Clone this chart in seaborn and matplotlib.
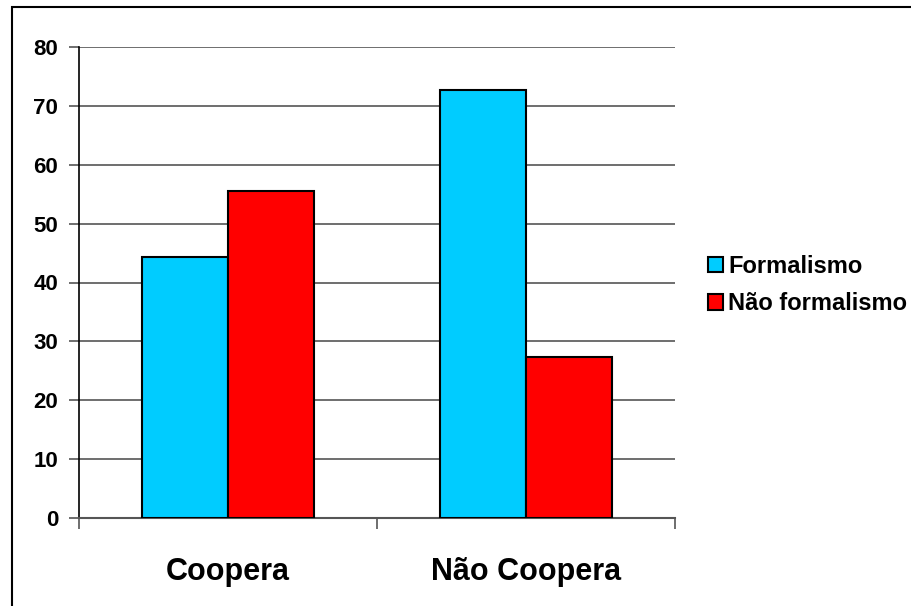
import pandas as pd
import matplotlib
matplotlib.use('Agg')
import matplotlib.pyplot as plt
import seaborn as sns
from matplotlib.patches import Rectangle

# Data
categorias = ['Coopera', 'Não Coopera']
series = ['Formalismo', 'Não formalismo']
formalismo = [44.4, 72.7]
nao_formalismo = [55.6, 27.3]
cores = ['#00CCFF', '#FF0000']
y_ticks = [0, 10, 20, 30, 40, 50, 60, 70, 80]

df = pd.DataFrame({
    'grupo': categorias * 2,
    'serie': [series[0]] * 2 + [series[1]] * 2,
    'valor': formalismo + nao_formalismo,
})

sns.set_style('white')
plt.rcParams['font.family'] = ['Liberation Sans', 'DejaVu Sans']
plt.rcParams['font.weight'] = 'bold'
plt.rcParams['text.color'] = 'black'
plt.rcParams['xtick.labelcolor'] = 'black'
plt.rcParams['ytick.labelcolor'] = 'black'

fig = plt.figure(figsize=(9.12, 6.06), dpi=100)
ax = fig.add_axes([79 / 912, 88 / 606, 596 / 912, 471 / 606])

sns.barplot(data=df, x='grupo', y='valor', hue='serie', order=categorias,
            hue_order=series, palette=cores, width=0.574, saturation=1,
            edgecolor='black', linewidth=1.5, ax=ax, zorder=3)

ax.set_ylim(0, 80)
ax.set_xlim(-0.5, 1.5)
ax.set_yticks(y_ticks)
ax.set_yticklabels([str(v) for v in y_ticks], fontsize=16, fontweight='bold',
                   color='black')
ax.yaxis.grid(True, color='#555555', linewidth=1.2, zorder=0)
ax.set_axisbelow(True)

# x ticks sit at the category boundaries, labels at centers
ax.set_xticks([-0.5, 0.5, 1.5])
ax.set_xticklabels(['', '', ''])
ax.set_xticks([0, 1], minor=True)
ax.set_xticklabels(categorias, minor=True, fontsize=22, fontweight='bold',
                   color='black')
ax.tick_params(axis='x', which='major', direction='out', length=8, width=1.2,
               color='#555555', bottom=True)
ax.tick_params(axis='x', which='minor', length=0, pad=28)
ax.tick_params(axis='y', direction='out', length=7, width=1.2, color='#555555',
               left=True, pad=8)

for s in ['top', 'right']:
    ax.spines[s].set_visible(False)
ax.spines['left'].set_color('black')
ax.spines['left'].set_linewidth(1.2)
ax.spines['bottom'].set_color('#555555')
ax.spines['bottom'].set_linewidth(1.5)

ax.set_xlabel('')
ax.set_ylabel('')

leg = ax.legend(loc='center left', bbox_to_anchor=(1.0, 0.495), frameon=False,
                prop={'weight': 'bold', 'size': 17}, handlelength=0.65,
                handleheight=0.65, handletextpad=0.2, labelspacing=0.6,
                borderaxespad=1.0)
for t in leg.get_texts():
    t.set_color('black')

# outer frame of the chart area
fig.patches.append(Rectangle((12 / 912, -0.05), 1.0, 1 - 7 / 606 + 0.05,
                             transform=fig.transFigure, fill=False,
                             edgecolor='black', linewidth=1.5))

fig.savefig('out.png', dpi=100)
